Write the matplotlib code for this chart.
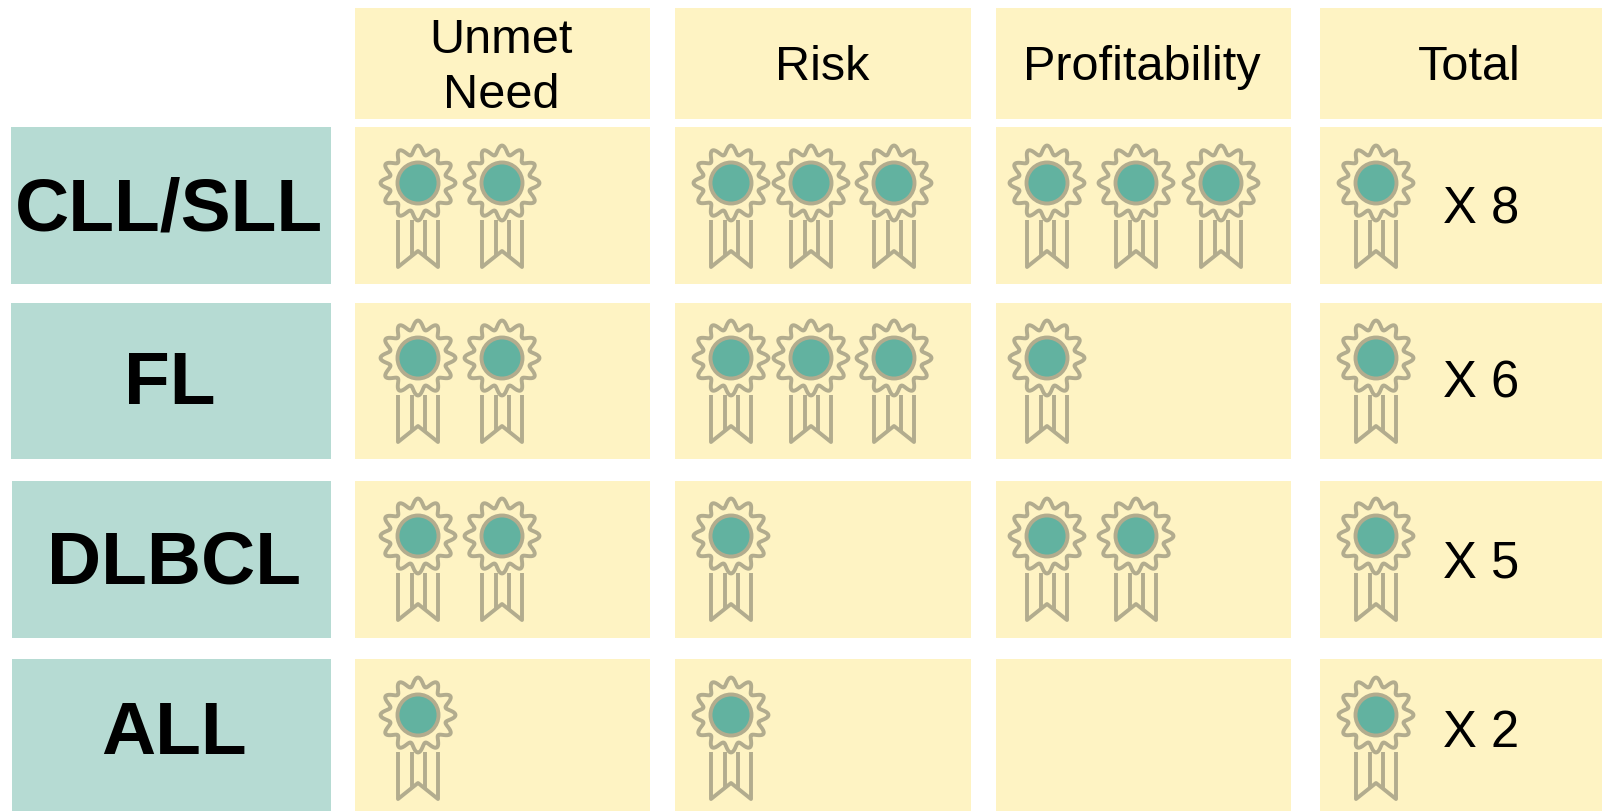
import numpy as np
import matplotlib
matplotlib.use('Agg')
import matplotlib.pyplot as plt
from matplotlib.patches import Rectangle, Polygon, Circle

# Data
diseases = ['CLL/SLL', 'FL', 'DLBCL', 'ALL']
columns = ['Unmet\nNeed', 'Risk', 'Profitability', 'Total']
unmet_need = [2, 2, 2, 1]
risk = [3, 3, 1, 1]
profitability = [3, 1, 2, 0]
totals = [8, 6, 5, 2]

# Layout in pixels of the original image
W, H = 1602, 812
col_boxes = [(355, 650), (675, 971), (996, 1291), (1320, 1602)]
header_text_x = [501, 822, 1142, 1469]
row_boxes = [(128, 285), (304, 460), (482, 639), (660, 812)]
label_boxes = [(11, 331), (11, 331), (12, 331), (12, 331)]
label_centers = [(169, 211), (170, 385), (174, 564), (174, 735)]
header_box = (9, 120)
ribbon_x = [(418, 502), (731, 811, 894), (1047, 1136, 1221)]
total_ribbon_x = 1376
total_text_x = 1481
ribbon_y = [184, 359, 537, 716]
total_text_y = [210, 384, 564, 734]

CREAM = '#fef3c3'
TEAL_BG = '#b6dbd3'
TEAL = '#62b2a0'
EDGE = '#b2ac8e'


def draw_ribbon(ax, cx, cy):
    """Draw one rosette with its two tails, centred on the pixel cx, cy."""
    tail_style = dict(color=EDGE, lw=2.8, solid_joinstyle='round', solid_capstyle='butt')
    ax.plot([cx - 20, cx - 20, cx, cx + 20, cx + 20],
            [cy + 37, cy + 84, cy + 68, cy + 84, cy + 37], **tail_style)
    ax.plot([cx - 6.5, cx - 6.5], [cy + 37, cy + 73], **tail_style)
    ax.plot([cx + 6.5, cx + 6.5], [cy + 37, cy + 73], **tail_style)

    angles = np.linspace(0, 2 * np.pi, 240, endpoint=False) + np.pi / 2
    radius = 33 + 4.5 * np.cos(12 * (angles - np.pi / 2))
    star = np.column_stack([cx + radius * np.cos(angles), cy - radius * np.sin(angles)])
    ax.add_patch(Polygon(star, closed=True, fc=CREAM, ec=EDGE, lw=2.8, joinstyle='round', zorder=3))
    ax.add_patch(Circle((cx, cy), 20.5, fc=TEAL, ec=EDGE, lw=2.8, zorder=4))


def main():
    plt.rcParams['font.family'] = ['Liberation Sans', 'DejaVu Sans']
    fig = plt.figure(figsize=(W / 100, H / 100), dpi=100)
    ax = fig.add_axes([0, 0, 1, 1])
    ax.set_xlim(0, W)
    ax.set_ylim(H, 0)
    ax.axis('off')

    # Header row
    for (x0, x1), tx, name in zip(col_boxes, header_text_x, columns):
        ax.add_patch(Rectangle((x0, header_box[0]), x1 - x0, header_box[1] - header_box[0], fc=CREAM, ec='none'))
        ax.text(tx, 68, name, ha='center', va='center', fontsize=35, linespacing=1.3, color='black')

    counts = [unmet_need, risk, profitability]
    for r, name in enumerate(diseases):
        y0, y1 = row_boxes[r]
        lx0, lx1 = label_boxes[r]
        ax.add_patch(Rectangle((lx0, y0), lx1 - lx0, y1 - y0, fc=TEAL_BG, ec='none'))
        ax.text(label_centers[r][0], label_centers[r][1], name, ha='center', va='center',
                fontsize=54, fontweight='bold', color='black')

        for (x0, x1) in col_boxes:
            ax.add_patch(Rectangle((x0, y0), x1 - x0, y1 - y0, fc=CREAM, ec='none'))

        for c, values in enumerate(counts):
            for i in range(values[r]):
                draw_ribbon(ax, ribbon_x[c][i], ribbon_y[r])

        draw_ribbon(ax, total_ribbon_x, ribbon_y[r])
        ax.text(total_text_x, total_text_y[r], f'X {totals[r]}', ha='center', va='center',
                fontsize=36.5, color='black')

    fig.savefig('out.png', dpi=100)


if __name__ == "__main__":
    main()
